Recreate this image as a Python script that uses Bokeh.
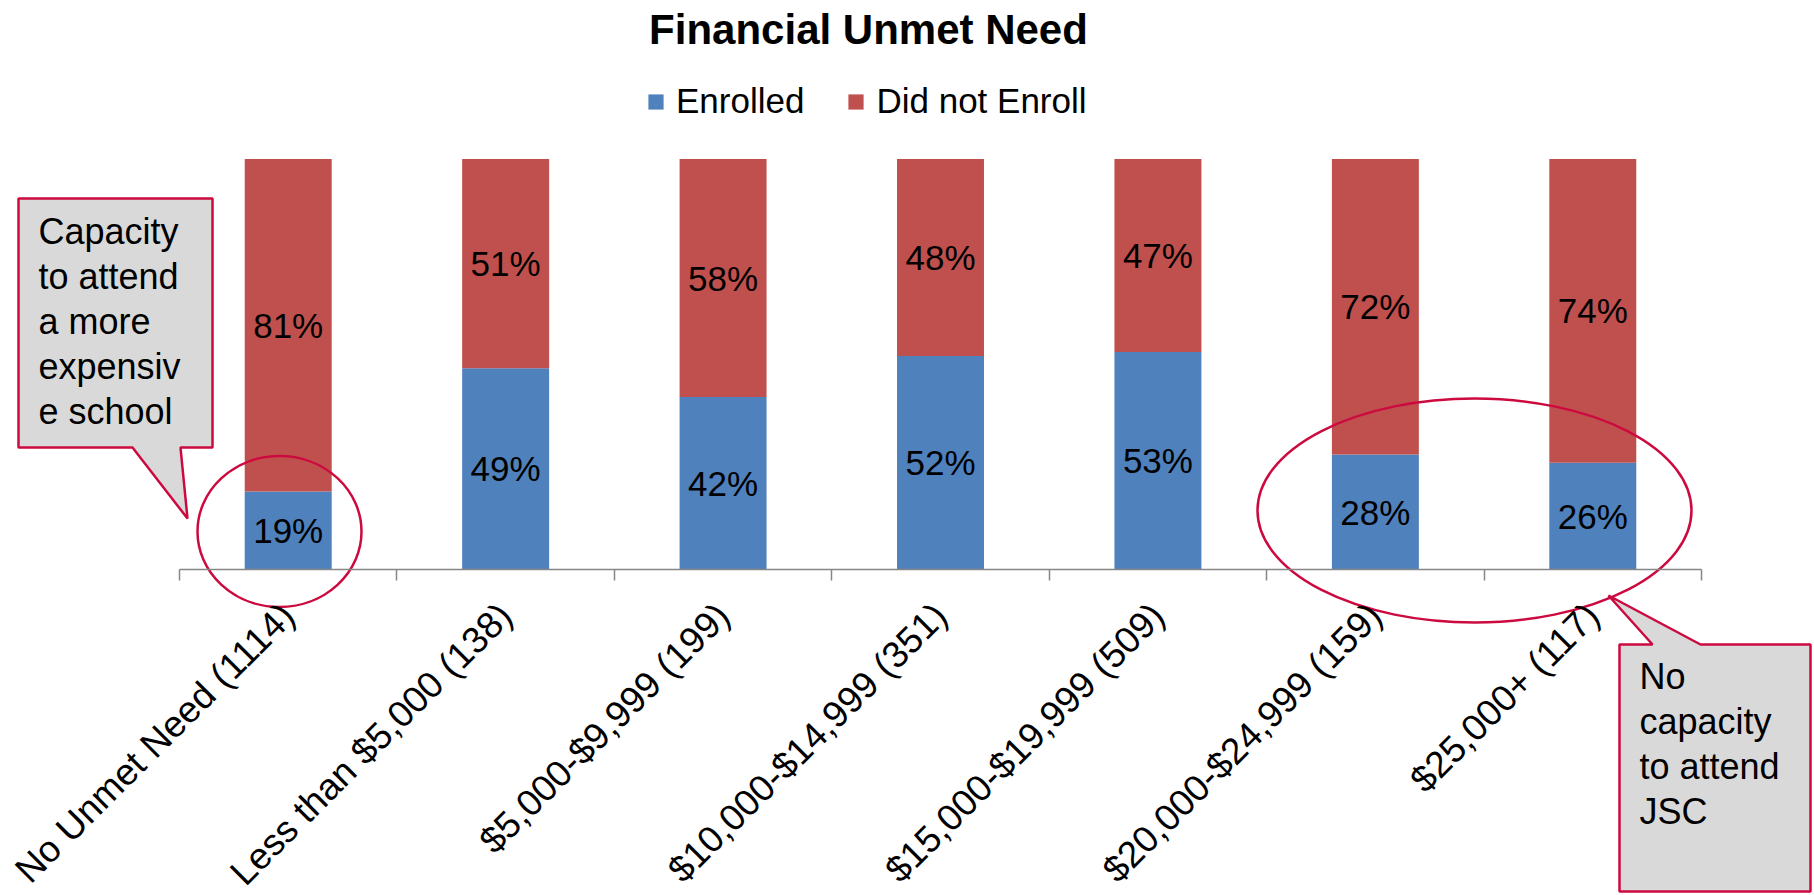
import math
from bokeh.plotting import figure
from bokeh.models import (Range1d, LinearAxis, FixedTicker, Legend, LegendItem,
                          Label, ColumnDataSource)
from bokeh.core.properties import value
from bokeh.embed import file_html
from bokeh.resources import INLINE

# ---------------- data ----------------
categories = [
    "No Unmet Need (1114)",
    "Less than $5,000 (138)",
    "$5,000-$9,999 (199)",
    "$10,000-$14,999 (351)",
    "$15,000-$19,999 (509)",
    "$20,000-$24,999 (159)",
    "$25,000+ (117)",
]
enrolled = [19, 49, 42, 52, 53, 28, 26]
did_not_enroll = [81, 51, 58, 48, 47, 72, 74]
series_names = ["Enrolled", "Did not Enroll"]
title_text = "Financial Unmet Need"
callout_left_lines = ["Capacity", "to attend", "a more", "expensiv", "e school"]
callout_right_lines = ["No", "capacity", "to attend", "JSC"]

# ---------------- layout / style ----------------
W, H = 1814, 895
PX0 = 179.0      # px of left boundary of first category
CAT_W = 217.43   # px per category
PY0 = 569.0      # px of value 0
UNIT_H = 410.5   # px per 100 %
FONT_NAME = "Liberation Sans"
FONT = value(FONT_NAME)
BLUE = "#4F81BD"
RED = "#C0504D"
CRIMSON = "#CC0A3F"
AXIS_GRAY = "#868686"


def dx(xp):  # canvas px -> data x
    return (xp - PX0) / CAT_W


def dy(yp):  # canvas px -> data y
    return (PY0 - yp) / UNIT_H


n = len(categories)
p = figure(width=W, height=H, title=None,
           x_range=Range1d(dx(0), dx(W)),
           y_range=Range1d(dy(H), dy(0)),
           output_backend="svg", toolbar_location=None,
           x_axis_location=None, y_axis_location=None,
           min_border=0)
p.outline_line_color = None
p.grid.visible = False
p.background_fill_color = "white"
p.border_fill_color = "white"

src = ColumnDataSource(dict(
    x=[i + 0.5 for i in range(n)],
    cat=categories,
    enrolled=[v / 100 for v in enrolled],
    did_not=[v / 100 for v in did_not_enroll],
))
rs = p.vbar_stack(["enrolled", "did_not"], x="x", width=0.4,
                  fill_color=[BLUE, RED], line_color=None, source=src)

# segment labels
lab_x, lab_y, lab_t = [], [], []
for i, (e, d) in enumerate(zip(enrolled, did_not_enroll)):
    lab_x += [i + 0.5, i + 0.5]
    lab_y += [e / 200, e / 100 + d / 200]
    lab_t += [f"{e}%", f"{d}%"]
p.text(x=lab_x, y=lab_y, text=lab_t, text_align="center", text_baseline="middle",
       text_font=FONT, text_font_size="35px", text_color="black")

# axes: boundary ticks + category labels
tick_axis = LinearAxis(ticker=FixedTicker(ticks=list(range(n + 1))), bounds=(0, n),
                       fixed_location=0, major_tick_in=0, major_tick_out=11,
                       axis_line_color=AXIS_GRAY, axis_line_width=1.5,
                       major_tick_line_color=AXIS_GRAY, major_tick_line_width=1.5,
                       minor_tick_line_color=None, major_label_text_color=None)
p.add_layout(tick_axis, "below")

label_axis = LinearAxis(ticker=FixedTicker(ticks=[i + 0.5 for i in range(n)]),
                        major_label_overrides={i + 0.5: c for i, c in enumerate(categories)},
                        major_label_orientation=math.pi / 4,
                        fixed_location=0, major_tick_in=0, major_tick_out=0,
                        axis_line_color=None, major_tick_line_color=None,
                        minor_tick_line_color=None, major_label_standoff=40,
                        major_label_text_font=FONT_NAME, major_label_text_font_size="37px",
                        major_label_text_color="black")
p.add_layout(label_axis, "below")

# ellipses
p.ellipse(x=[dx(279), dx(1474)], y=[dy(531), dy(510)],
          width=[164, 434], height=[151, 224],
          width_units="screen", height_units="screen",
          fill_color=None, line_color=CRIMSON, line_width=2.5)

# callouts
c1 = [(18, 198), (212, 198), (212, 447), (180, 447), (187, 518), (132, 447), (18, 447)]
c2 = [(1619, 644), (1652, 644), (1608, 595), (1700, 644), (1810, 644), (1810, 891), (1619, 891)]
p.patches(xs=[[dx(a) for a, b in c1], [dx(a) for a, b in c2]],
          ys=[[dy(b) for a, b in c1], [dy(b) for a, b in c2]],
          fill_color="#D9D9D9", line_color=CRIMSON, line_width=2.5)

p.text(x=[dx(38)] * len(callout_left_lines),
       y=[dy(231 + 45 * i) for i in range(len(callout_left_lines))],
       text=callout_left_lines, text_align="left", text_baseline="middle",
       text_font=FONT, text_font_size="36px", text_color="black")
p.text(x=[dx(1639)] * len(callout_right_lines),
       y=[dy(676 + 45 * i) for i in range(len(callout_right_lines))],
       text=callout_right_lines, text_align="left", text_baseline="middle",
       text_font=FONT, text_font_size="36px", text_color="black")

# title
p.add_layout(Label(x=dx(868), y=dy(28.5), text=title_text, text_align="center",
                   text_baseline="middle", text_font=FONT_NAME,
                   text_font_size="42px", text_font_style="bold", text_color="black"))

# legend
legend = Legend(items=[LegendItem(label=series_names[0], renderers=[rs[0]]),
                       LegendItem(label=series_names[1], renderers=[rs[1]])],
                orientation="horizontal", location=(646, 774),
                border_line_color=None, background_fill_alpha=0,
                padding=0, margin=0, spacing=42, label_standoff=11,
                glyph_width=19, glyph_height=19,
                label_text_font=FONT_NAME, label_text_font_size="35px",
                label_text_color="black")
p.add_layout(legend)

open("out.html", "w").write(file_html(p, INLINE))
